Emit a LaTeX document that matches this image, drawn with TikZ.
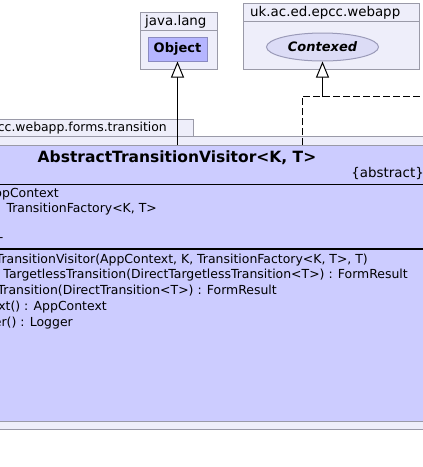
\documentclass[tikz,border=0pt]{standalone}
\usepackage{fontspec}
\setmainfont{DejaVu Sans}
\usetikzlibrary{arrows.meta,shapes.geometric}
\definecolor{pkgfill}{HTML}{EEEEFA}
\definecolor{pkgline}{HTML}{9A9AA8}
\definecolor{clsfill}{HTML}{CCCCFF}
\definecolor{objfill}{HTML}{B5B5FF}
\definecolor{objline}{HTML}{8A8AC0}
\definecolor{ellfill}{HTML}{DCDCF6}
\definecolor{ellline}{HTML}{9A9AB8}
\tikzset{
  pkgbox/.style={draw=pkgline, fill=pkgfill, line width=1pt},
  clsbox/.style={draw=pkgline, fill=clsfill, line width=1pt},
  pkglabel/.style={font=\fontsize{13.4}{15}\selectfont, inner sep=0pt, anchor=base west},
  member/.style={font=\fontsize{12.45}{14}\selectfont, inner sep=0pt, anchor=base east},
  inherit/.style={line width=1pt, -{Triangle[open, length=16pt, width=13pt, fill=white]}},
  realize/.style={line width=1pt, dash pattern=on 7pt off 3pt},
}
\begin{document}
\begin{tikzpicture}[x=1pt,y=-1pt]
\useasboundingbox (0,0) rectangle (423,467);
\clip (0,0) rectangle (423,467);
\fill[white] (0,0) rectangle (423,467);
% java.lang package
\draw[pkgbox] (140,12) rectangle (217,69);
\draw[pkgline, line width=1pt] (140,30) -- (217,30);
\node[pkglabel] (jl) at (145,25.5) {java.lang};
\node[draw=objline, fill=objfill, line width=1pt, minimum width=59pt, minimum height=24pt, inner sep=0pt,
      font=\fontsize{13}{15}\selectfont\bfseries] (obj) at (177.5,49) {Object};
% uk.ac.ed.epcc.webapp package
\draw[pkgbox] (243,3) rectangle (419,69);
\draw[pkgline, line width=1pt] (243,21) -- (419,21);
\node[pkglabel] (uk) at (250,16) {uk.ac.ed.epcc.webapp};
\node[ellipse, draw=ellline, fill=ellfill, line width=1pt, minimum width=112pt, minimum height=28pt, inner sep=0pt,
      font=\fontsize{13}{15}\selectfont\bfseries\itshape] (ctx) at (322.5,47) {Contexed};
% transition package
\draw[pkgbox] (-10,119) rectangle (193,136);
\draw[pkgbox] (-10,136) rectangle (440,429);
\node[pkglabel, anchor=base east, font=\fontsize{12.4}{15}\selectfont] (tp) at (167,131.5) {cc.webapp.forms.transition};
% class
\node[clsbox, minimum width=450pt, minimum height=276pt, inner sep=0pt, anchor=north west] (cls) at (-10,145) {};
\draw[black, line width=1pt] (-10,184) -- (440,184);
\draw[black, line width=2.6pt] (-10,249) -- (440,249);
\node[font=\fontsize{15.5}{18}\selectfont\bfseries, inner sep=0pt, anchor=base] (title) at (177,162) {AbstractTransitionVisitor<K, T>};
\node[font=\fontsize{13.4}{15}\selectfont, inner sep=0pt, anchor=base east] (abs) at (424,177) {\{abstract\}};
\node[member] (a1) at (59,197) {ppContext};
\node[member] (a2) at (157,212.5) {: TransitionFactory<K, T>};
\node[member] (a3) at (3.5,241) {-};
\node[member] (m1) at (368,263) {TransitionVisitor(AppContext, K, TransitionFactory<K, T>, T)};
\node[member] (m2) at (408,278.7) {TargetlessTransition(DirectTargetlessTransition<T>) : FormResult};
\node[member] (m3) at (277,294.5) {Transition(DirectTransition<T>) : FormResult};
\node[member] (m4) at (107,310.2) {ext() : AppContext};
\node[member] (m5) at (73,326) {er() : Logger};
% connectors
\draw[inherit] (cls.north -| obj.south) -- (obj.south);
\coordinate (jn) at (302,96);
\coordinate (jr) at (440,96);
\draw[realize] (cls.north -| jn) -- (jn) -- (jr);
\draw[realize] (jn -| ctx.south) -- (ctx.south);
\draw[inherit] ([yshift=-1pt]jn -| ctx.south) -- (ctx.south);
\end{tikzpicture}
\end{document}
